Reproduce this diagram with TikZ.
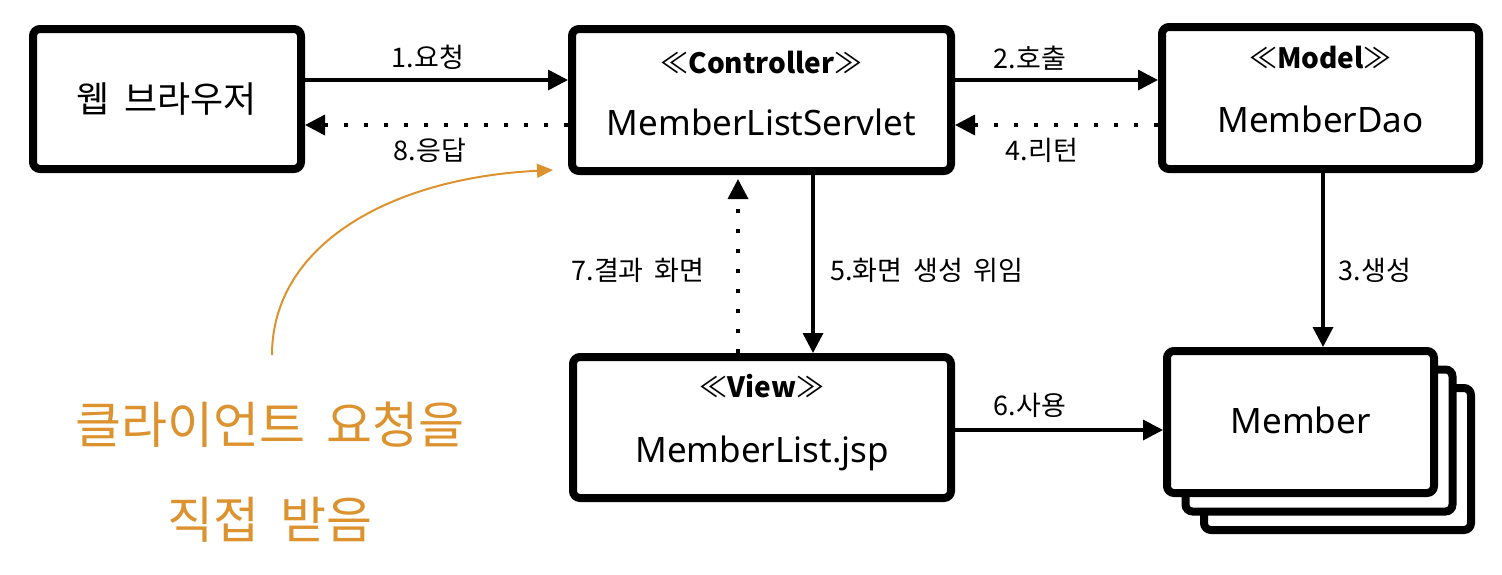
\documentclass[tikz,border=0pt]{standalone}
\usepackage{fontspec}
\setmainfont{Noto Sans}
\newfontfamily\kr[WordSpace=1.8]{Noto Sans CJK KR}
\usetikzlibrary{arrows.meta,calc}
\definecolor{handorange}{RGB}{220,146,46}
\tikzset{
  box/.style={draw,line width=8pt,rounded corners=7pt,fill=white,inner sep=0pt},
  arr/.style={line width=3.5pt,-{Triangle[length=20pt,width=20pt]}},
  dotarr/.style={arr,dash pattern=on 4pt off 16pt},
  lbl/.style={font=\kr\fontsize{27}{30}\selectfont,inner sep=0pt},
  stereo/.style={font=\kr\fontsize{28}{32}\selectfont\bfseries,inner sep=0pt,anchor=base},
  nm/.style={font=\fontsize{35}{40}\selectfont,inner sep=0pt,anchor=base},
  hand/.style={font=\kr\fontsize{50}{56}\selectfont,text=handorange,inner sep=0pt},
}
\newcommand{\stereotype}[1]{{\mdseries ≪}#1{\mdseries ≫}}
\begin{document}
\begin{tikzpicture}[x=1pt,y=-1pt]
\useasboundingbox (0,0) rectangle (1502,574);

% boxes
\node[box,minimum width=268pt,minimum height=140pt] (web) at (167,99) {};
\node[inner sep=0pt,font=\kr\fontsize{36}{40}\selectfont] (webt) at (167,99) {웹 브라우저};

\node[box,minimum width=379pt,minimum height=142pt] (ctrl) at (761.5,100) {};
\node[stereo] (ctrls) at (761.5,73) {\stereotype{Controller}};
\node[nm] (ctrln) at (761.5,135) {MemberListServlet};

\node[box,minimum width=317pt,minimum height=142pt] (model) at (1320.5,98) {};
\node[stereo] (models) at (1320.5,68) {\stereotype{Model}};
\node[nm] (modeln) at (1320.5,132) {MemberDao};

\node[box,minimum width=378pt,minimum height=141pt] (view) at (762,427.5) {};
\node[stereo] (views) at (762,397) {\stereotype{View}};
\node[nm] (viewn) at (762,462) {MemberList.jsp};

\node[box,minimum width=267pt,minimum height=142pt] (mem3) at (1337.5,459) {};
\node[box,minimum width=267pt,minimum height=142pt] (mem2) at (1319,440.5) {};
\node[box,minimum width=267pt,minimum height=142pt] (mem) at (1300.5,422) {};
\node[nm] (memn) at (1300.5,433) {Member};

% connectors
\coordinate (p1) at ([yshift=19pt]web.east);
\draw[arr] (p1) -- (p1 -| ctrl.west);
\coordinate (p8) at ([yshift=-26pt]web.east);
\draw[dotarr] (p8 -| ctrl.west) -- (p8);
\coordinate (p2) at ([yshift=20pt]ctrl.east);
\draw[arr] (p2) -- (p2 -| model.west);
\coordinate (p4) at ([yshift=-25pt]ctrl.east);
\draw[dotarr] (p4 -| model.west) -- (p4);
\coordinate (p3) at ([xshift=2.5pt]model.south);
\draw[arr] (p3) -- (p3 |- mem.north);
\coordinate (p5) at ([xshift=51.5pt]ctrl.south);
\draw[arr] (p5) -- (p5 |- view.north);
\coordinate (p7) at ([xshift=-23.5pt]ctrl.south);
\draw[dotarr,shorten >=4pt] (p7 |- view.north) -- (p7);
\coordinate (p6) at ([yshift=-2.5pt]view.east);
\draw[arr] (p6) -- (p6 -| mem.west);

% labels
\node[lbl] (l1) at (428,57) {1.요청};
\node[lbl] (l8) at (430,150) {8.응답};
\node[lbl] (l2) at (1030,58) {2.호출};
\node[lbl] (l4) at (1042,150) {4.리턴};
\node[lbl] (l3) at (1375,270) {3.생성};
\node[lbl] (l5) at (927,270) {5.화면 생성 위임};
\node[lbl] (l7) at (638,270) {7.결과 화면};
\node[lbl] (l6) at (1030,405) {6.사용};

% annotation
\node[hand] (h1) at (270,425) {클라이언트 요청을};
\node[hand] (h2) at (270,520) {직접 받음};
\coordinate (cs) at (272,355);
\coordinate (ce) at (553,170);
\draw[handorange,line width=2pt,-{Triangle[length=16pt,width=14pt]}] (cs) .. controls (272,245) and (390,178) .. (ce);
\end{tikzpicture}
\end{document}
